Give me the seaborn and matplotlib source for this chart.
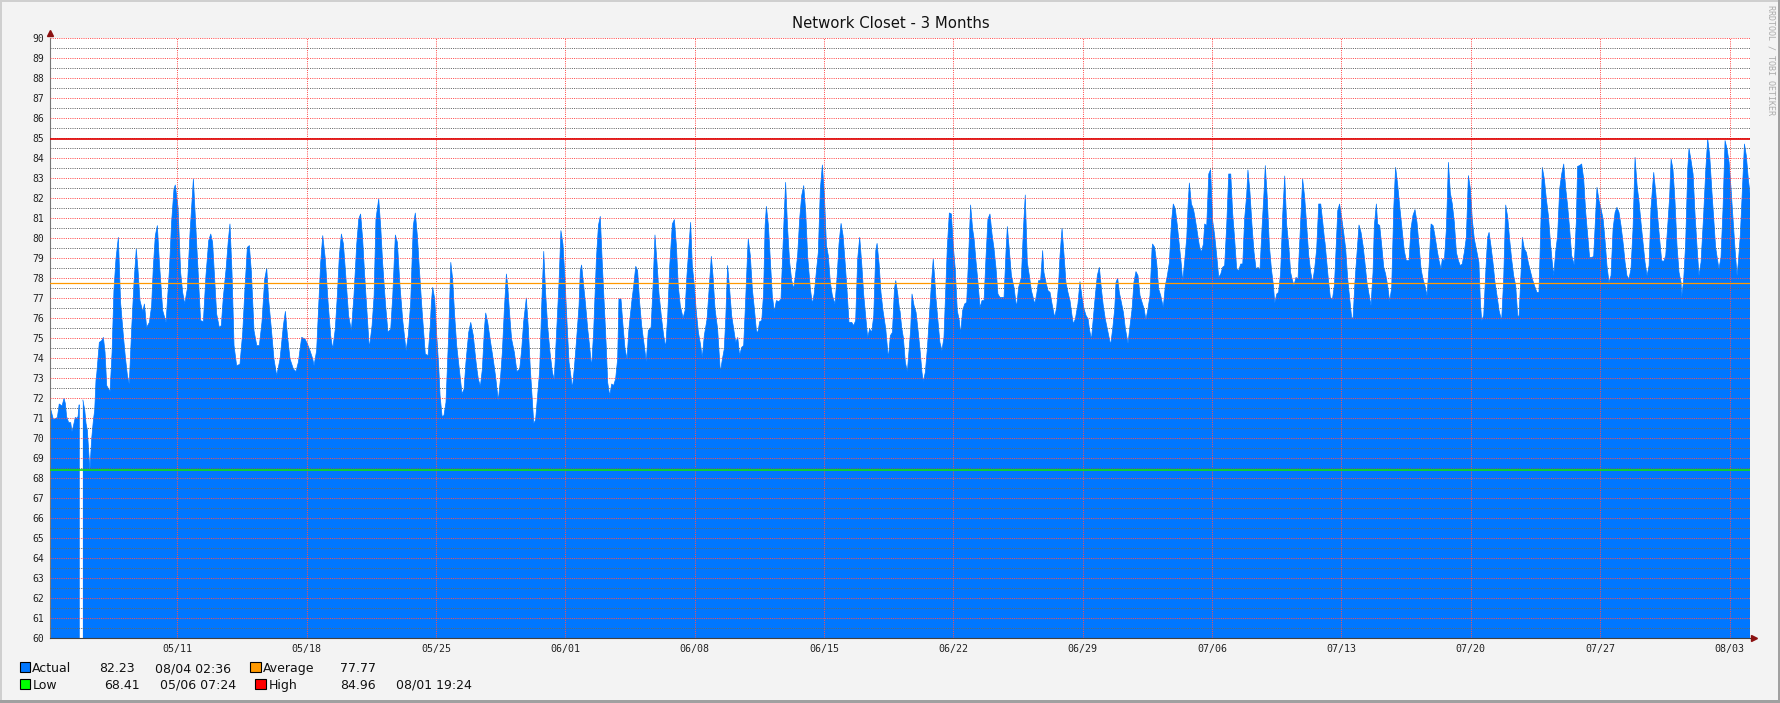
import numpy as np
import pandas as pd
import matplotlib
matplotlib.use("Agg")
import matplotlib.pyplot as plt
from matplotlib.patches import Rectangle
import seaborn as sns

# ---------------- data (days since 05/04 02:36, temperature) ----------------
title = "Network Closet - 3 Months"
start_time = "2014-05-04 02:36"

points_may = [
    (0.00, 71.45), (0.05, 71.4), (0.18, 70.93), (0.32, 70.98), (0.40, 71.03), (0.50, 71.7),
    (0.58, 71.65), (0.65, 71.6), (0.76, 71.98), (0.83, 71.73), (0.90, 71.07), (1.01, 70.77),
    (1.12, 70.77), (1.19, 70.32), (1.26, 70.57), (1.37, 71.03), (1.44, 70.98), (1.52, 71.07),
    (1.57, 71.65), (1.61, 71.65), (1.70, np.nan), (1.78, 71.9), (1.88, 71.4), (1.95, 70.73),
    (2.02, 70.4), (2.09, 69.4), (2.16, 68.41), (2.25, 69.9), (2.35, 70.9), (2.42, 71.4),
    (2.49, 72.9),
    (2.53, 73.2), (2.67, 74.78), (2.80, 74.87), (2.89, 75.03), (2.98, 74.28), (3.07, 72.62), (3.25, 72.32),
    (3.36, 74.28), (3.46, 77.37), (3.57, 78.95), (3.70, 80.03), (3.82, 76.78), (3.97, 75.12), (4.08, 74.03),
    (4.19, 73.12), (4.29, 72.7), (4.42, 75.45), (4.55, 77.82), (4.67, 79.45), (4.76, 78.45), (4.87, 76.87),
    (5.02, 76.32), (5.11, 76.7), (5.23, 75.53), (5.38, 75.78), (5.50, 76.62), (5.59, 78.53), (5.70, 80.12),
    (5.81, 80.62), (5.92, 78.78), (6.10, 76.37), (6.28, 75.78), (6.46, 78.37), (6.58, 80.78), (6.71, 82.45),
    (6.78, 82.65), (6.93, 81.53), (7.07, 78.28), (7.18, 77.28), (7.29, 76.7), (7.43, 77.45), (7.58, 80.28),
    (7.76, 82.95), (7.87, 80.95), (8.01, 78.45), (8.15, 75.87), (8.30, 75.82), (8.44, 78.12), (8.59, 79.87),
    (8.70, 80.2), (8.80, 79.78), (8.91, 77.95), (9.02, 76.2), (9.16, 75.53), (9.27, 75.62), (9.38, 77.03),
    (9.53, 78.45), (9.65, 79.87), (9.74, 80.7), (9.85, 78.28), (9.96, 74.62), (10.10, 73.62), (10.28, 73.68),
    (10.43, 75.28), (10.55, 77.45), (10.68, 79.53), (10.79, 79.62), (10.90, 78.28), (11.04, 75.37),
    (11.19, 74.62), (11.33, 74.62), (11.47, 75.78), (11.62, 77.95), (11.73, 78.48), (11.83, 76.95),
    (11.98, 75.45), (12.12, 73.95), (12.27, 73.12), (12.45, 73.95), (12.63, 75.62), (12.74, 76.33),
    (12.85, 75.12), (12.99, 73.95), (13.17, 73.45), (13.31, 73.32), (13.44, 73.78), (13.62, 75.03),
    (13.80, 74.95), (13.93, 74.7), (14.07, 74.37), (14.22, 73.95), (14.29, 73.62), (14.43, 74.37),
    (14.54, 76.62), (14.65, 78.78), (14.76, 80.12), (14.90, 78.95), (15.05, 76.78), (15.19, 75.12),
    (15.30, 74.45), (15.44, 75.45), (15.55, 77.12), (15.66, 79.12), (15.77, 80.2), (15.88, 79.7),
    (16.02, 77.95), (16.16, 76.12), (16.31, 75.37), (16.45, 77.12), (16.60, 79.7), (16.71, 80.95),
    (16.81, 81.2), (16.92, 79.95), (17.03, 78.12), (17.17, 76.12), (17.28, 74.48), (17.43, 75.62),
    (17.54, 77.12), (17.64, 80.95), (17.79, 81.95), (17.90, 80.53), (18.00, 78.78), (18.15, 76.78),
    (18.29, 75.28), (18.44, 75.45), (18.55, 77.12), (18.69, 80.15), (18.80, 79.78), (18.94, 77.62),
    (19.09, 75.87), (19.27, 74.37), (19.39, 75.12), (19.52, 76.78), (19.66, 80.62), (19.77, 81.25),
    (19.88, 80.12), (19.99, 78.45), (20.13, 76.45), (20.31, 74.2), (20.46, 74.12), (20.57, 75.45),
    (20.64, 76.78), (20.71, 77.53), (20.82, 76.95), (20.93, 75.12), (21.04, 73.53), (21.11, 72.12),
    (21.22, 71.08), (21.32, 71.12), (21.43, 71.78), (21.58, 75.28), (21.69, 78.78), (21.79, 77.95),
    (21.90, 76.12), (22.01, 74.62), (22.15, 73.45), (22.30, 72.2), (22.41, 72.45), (22.51, 73.78),
    (22.66, 75.28), (22.77, 75.78), (22.91, 75.12),
]

points_june = [
    (23.00, 74.28), (23.09, 73.53), (23.18, 72.95), (23.29, 72.58), (23.40, 73.45), (23.51, 75.45),
    (23.58, 76.25), (23.69, 75.78), (23.79, 75.12), (23.90, 74.45), (24.01, 73.78), (24.12, 73.03),
    (24.26, 71.87), (24.37, 72.87), (24.48, 74.28), (24.59, 76.45), (24.70, 78.2), (24.77, 77.62),
    (24.88, 76.12), (24.98, 74.95), (25.13, 74.28), (25.27, 73.32), (25.42, 73.45), (25.53, 74.45),
    (25.63, 75.78), (25.78, 77.0), (25.89, 75.45), (25.99, 73.53), (26.10, 71.95), (26.18, 70.73),
    (26.28, 70.9), (26.39, 72.12), (26.50, 73.37), (26.61, 76.62), (26.72, 79.33), (26.82, 77.28),
    (26.93, 75.62), (27.06, 74.28), (27.19, 73.28), (27.29, 72.92), (27.44, 75.7), (27.55, 77.82),
    (27.65, 80.37), (27.76, 79.7), (27.87, 77.95), (27.98, 75.78), (28.09, 73.78), (28.20, 73.03),
    (28.27, 72.48), (28.38, 73.53), (28.50, 74.95), (28.63, 76.62), (28.70, 78.37), (28.77, 78.65),
    (28.88, 77.62), (28.99, 76.62), (29.10, 75.45), (29.21, 74.53), (29.31, 73.53), (29.42, 75.28),
    (29.57, 78.95), (29.68, 80.62), (29.78, 81.08), (29.89, 78.7), (30.00, 76.62), (30.11, 74.45),
    (30.18, 72.78), (30.29, 72.12), (30.40, 72.7), (30.50, 72.62), (30.61, 72.95), (30.72, 73.95),
    (30.79, 76.95), (30.90, 76.95), (31.01, 75.62), (31.12, 74.45), (31.23, 73.95), (31.33, 75.45),
    (31.48, 76.78), (31.59, 77.62), (31.70, 78.58), (31.80, 78.37), (31.91, 76.78), (32.02, 75.62),
    (32.16, 74.62), (32.27, 73.82), (32.38, 75.37), (32.53, 75.53), (32.63, 77.45), (32.74, 80.15),
    (32.85, 78.78), (32.96, 77.2), (33.10, 75.95), (33.21, 75.12), (33.32, 74.53), (33.43, 76.12),
    (33.54, 78.62), (33.68, 80.7), (33.79, 80.92), (33.90, 79.62), (34.00, 77.62), (34.11, 76.62),
    (34.26, 76.0), (34.37, 76.37), (34.47, 78.12), (34.58, 79.62), (34.67, 80.78), (34.76, 78.62),
    (34.87, 77.62), (34.98, 76.28), (35.09, 75.28), (35.20, 74.7), (35.30, 74.03), (35.41, 75.12),
    (35.56, 75.95), (35.66, 77.28), (35.79, 79.08), (35.88, 78.12), (35.99, 76.45), (36.13, 75.45),
    (36.28, 73.28), (36.39, 73.95), (36.49, 74.45), (36.57, 75.95), (36.67, 78.62), (36.78, 77.45),
    (36.89, 76.12), (37.00, 75.45), (37.11, 74.78), (37.22, 75.03), (37.32, 74.12), (37.43, 74.53),
    (37.54, 74.62), (37.65, 76.95), (37.76, 79.45), (37.79, 79.95), (37.90, 79.12), (38.01, 77.45),
    (38.12, 76.45), (38.23, 75.37), (38.30, 75.25), (38.41, 75.82), (38.52, 75.87), (38.62, 77.28),
    (38.70, 80.62), (38.77, 81.58), (38.88, 80.62), (38.98, 78.95), (39.09, 77.12), (39.20, 76.32),
    (39.31, 76.87), (39.45, 76.82), (39.56, 76.95), (39.67, 79.62), (39.74, 81.28), (39.81, 82.78),
    (39.92, 80.45), (40.03, 78.78), (40.14, 77.87), (40.25, 77.45), (40.36, 78.28), (40.46, 79.12),
    (40.57, 80.95), (40.68, 82.12), (40.79, 82.62), (40.90, 81.28), (41.00, 79.12), (41.15, 77.45),
    (41.26, 76.7), (41.37, 77.28), (41.47, 78.28), (41.58, 79.28), (41.69, 82.45), (41.80, 83.65),
    (41.91, 82.12), (42.02, 79.62), (42.12, 79.12), (42.23, 77.78), (42.34, 77.12), (42.48, 76.7),
    (42.59, 77.95), (42.70, 79.7), (42.81, 80.73), (42.92, 80.12), (43.03, 78.78), (43.13, 77.45),
    (43.24, 75.78), (43.39, 75.78), (43.49, 75.62), (43.60, 75.87), (43.71, 78.95), (43.82, 80.03),
    (43.93, 78.7), (44.04, 77.12), (44.14, 76.12), (44.25, 75.03), (44.36, 75.45), (44.47, 75.28),
    (44.58, 76.12), (44.69, 79.37), (44.76, 79.73), (44.87, 78.7), (44.97, 77.28), (45.08, 76.37),
    (45.23, 75.45), (45.37, 73.98), (45.48, 75.12), (45.59, 75.28), (45.70, 77.45), (45.77, 77.87),
    (45.88, 77.2), (45.98, 76.37),
]

points_july = [
    (46.00, 76.37), (46.09, 75.53), (46.18, 75.03), (46.29, 73.78), (46.40, 73.32), (46.51, 74.62),
    (46.58, 75.45), (46.65, 77.2), (46.76, 76.62), (46.87, 76.28), (46.97, 75.45), (47.08, 74.45),
    (47.19, 73.28), (47.26, 72.82), (47.37, 73.28), (47.48, 74.45), (47.59, 76.12), (47.70, 77.7),
    (47.80, 78.95), (47.88, 77.95), (47.95, 76.95), (48.06, 75.78), (48.16, 74.78), (48.27, 74.37),
    (48.38, 75.03), (48.49, 77.78), (48.56, 79.53), (48.67, 81.25), (48.78, 81.2), (48.89, 79.53),
    (48.99, 78.45), (49.10, 76.37), (49.21, 75.87), (49.28, 75.2), (49.39, 76.37), (49.50, 76.7),
    (49.61, 76.78), (49.72, 79.2), (49.82, 81.65), (49.93, 80.45), (50.01, 79.95), (50.11, 78.87),
    (50.22, 77.78), (50.33, 76.53), (50.44, 76.87), (50.55, 76.87), (50.65, 78.95), (50.76, 80.95),
    (50.87, 81.2), (50.98, 80.2), (51.09, 79.45), (51.20, 78.45), (51.30, 77.2), (51.41, 77.03),
    (51.63, 77.03), (51.74, 79.37), (51.81, 80.57), (51.92, 79.37), (52.03, 78.12), (52.17, 77.53),
    (52.31, 76.53), (52.42, 77.53), (52.57, 78.03), (52.68, 80.45), (52.78, 82.15), (52.89, 78.78),
    (53.00, 78.12), (53.11, 77.37), (53.18, 77.12), (53.29, 76.7), (53.40, 77.2), (53.50, 77.87),
    (53.61, 77.87), (53.72, 79.37), (53.79, 78.28), (53.90, 77.78), (54.01, 77.37), (54.12, 77.28),
    (54.23, 76.7), (54.37, 76.03), (54.48, 76.53), (54.59, 77.78), (54.66, 79.12), (54.77, 80.48),
    (54.88, 79.12), (54.98, 77.78), (55.09, 77.28), (55.20, 76.87), (55.31, 76.12), (55.38, 75.7),
    (55.49, 75.95), (55.63, 76.7), (55.74, 77.82), (55.85, 77.03), (55.96, 76.45), (56.07, 76.12),
    (56.18, 75.95), (56.25, 75.45), (56.36, 74.92), (56.46, 75.95), (56.57, 77.12), (56.68, 78.12),
    (56.79, 78.53), (56.90, 77.45), (57.00, 76.62), (57.11, 75.95), (57.22, 75.45), (57.33, 74.95),
    (57.40, 74.65), (57.51, 75.45), (57.62, 76.45), (57.69, 77.78), (57.78, 77.98), (57.87, 77.28),
    (57.98, 76.78), (58.09, 76.28), (58.20, 75.45), (58.34, 74.73), (58.45, 75.62), (58.56, 76.45),
    (58.66, 77.78), (58.77, 78.32), (58.88, 78.12), (58.99, 77.12), (59.10, 76.78), (59.21, 76.45),
    (59.31, 75.92), (59.42, 76.45), (59.53, 77.12), (59.64, 79.45), (59.67, 79.7), (59.78, 79.53),
    (59.89, 78.78), (60.00, 77.45), (60.11, 77.12), (60.25, 76.53), (60.36, 77.62), (60.47, 78.12),
    (60.58, 78.78), (60.69, 80.78), (60.79, 81.7), (60.90, 81.45), (61.01, 80.62), (61.12, 79.62),
    (61.23, 78.62), (61.30, 77.82), (61.41, 78.87), (61.52, 80.03), (61.59, 81.62), (61.66, 82.75),
    (61.77, 81.7), (61.88, 81.45), (61.98, 80.95), (62.09, 80.28), (62.20, 79.62), (62.31, 79.28),
    (62.42, 79.7), (62.49, 80.7), (62.60, 80.62), (62.71, 83.2), (62.81, 83.42), (62.92, 80.87),
    (63.03, 80.12), (63.14, 79.12), (63.25, 78.03), (63.36, 78.2), (63.46, 78.53), (63.57, 78.62),
    (63.68, 80.62), (63.79, 83.2), (63.90, 83.2), (64.00, 81.28), (64.11, 79.95), (64.22, 78.45),
    (64.33, 78.37), (64.44, 78.7), (64.55, 78.7), (64.65, 80.95), (64.76, 82.12), (64.83, 83.4),
    (64.94, 82.28), (65.05, 80.62), (65.16, 79.28), (65.27, 78.45), (65.38, 78.53), (65.48, 78.4),
    (65.59, 80.45), (65.70, 82.28), (65.77, 83.62), (65.88, 81.95), (65.99, 79.62), (66.10, 78.45),
    (66.21, 77.62), (66.28, 76.75), (66.39, 77.2), (66.49, 77.28), (66.60, 78.28), (66.71, 81.12),
    (66.82, 83.1), (66.93, 80.62), (67.04, 79.62), (67.14, 78.28), (67.22, 77.95), (67.32, 77.62),
    (67.43, 78.03), (67.54, 77.95), (67.65, 80.12), (67.79, 82.95), (67.90, 82.03), (68.01, 80.62),
    (68.12, 79.12), (68.23, 78.28), (68.33, 77.78), (68.44, 78.45), (68.55, 79.45), (68.66, 81.7),
    (68.77, 81.7), (68.88, 80.78), (68.98, 79.87),
]

points_august = [
    (69.00, 79.78), (69.09, 78.87), (69.18, 77.95), (69.29, 77.03), (69.40, 76.92), (69.51, 77.62),
    (69.58, 79.03), (69.69, 81.37), (69.79, 81.7), (69.90, 81.03), (70.01, 80.28), (70.12, 79.45),
    (70.23, 77.95), (70.34, 76.95), (70.44, 76.03), (70.52, 75.98), (70.62, 77.78), (70.73, 79.2),
    (70.84, 80.65), (70.95, 80.28), (71.06, 79.62), (71.16, 78.78), (71.27, 77.78), (71.38, 77.2),
    (71.49, 76.62), (71.60, 78.28), (71.67, 80.62), (71.78, 81.7), (71.85, 80.7), (71.96, 80.62),
    (72.07, 79.62), (72.18, 78.53), (72.28, 78.2), (72.39, 77.62), (72.50, 76.82), (72.61, 77.53),
    (72.72, 81.45), (72.82, 83.53), (72.93, 82.7), (73.04, 81.62), (73.15, 80.62), (73.29, 79.37),
    (73.40, 78.87), (73.55, 78.87), (73.65, 80.45), (73.76, 81.12), (73.87, 81.42), (73.98, 80.78),
    (74.09, 79.62), (74.20, 78.45), (74.30, 77.95), (74.41, 77.62), (74.52, 77.12), (74.63, 78.53),
    (74.74, 80.7), (74.85, 80.62), (74.95, 80.12), (75.06, 79.45), (75.17, 78.87), (75.28, 78.45),
    (75.35, 78.95), (75.46, 78.87), (75.57, 80.45), (75.68, 83.78), (75.78, 82.28), (75.89, 81.7),
    (76.00, 80.78), (76.11, 79.28), (76.22, 78.87), (76.32, 78.62), (76.43, 78.7), (76.54, 79.28),
    (76.65, 80.03), (76.76, 83.12), (76.87, 82.45), (76.97, 80.95), (77.08, 79.95), (77.19, 79.45),
    (77.33, 78.78), (77.41, 76.78), (77.48, 75.87), (77.59, 76.12), (77.70, 78.28), (77.80, 80.03),
    (77.88, 80.28), (77.98, 79.62), (78.09, 78.78), (78.20, 77.78), (78.31, 77.12), (78.42, 76.37),
    (78.56, 75.87), (78.67, 77.95), (78.78, 81.65), (78.89, 81.03), (78.99, 79.95), (79.10, 78.95),
    (79.21, 78.12), (79.32, 77.62), (79.43, 76.12), (79.50, 76.07), (79.61, 78.28), (79.68, 80.03),
    (79.79, 79.45), (79.90, 79.28), (80.00, 78.78), (80.11, 78.37), (80.22, 77.95), (80.37, 77.53),
    (80.47, 77.28), (80.58, 77.28), (80.69, 80.95), (80.76, 83.53), (80.87, 82.95), (80.98, 81.95),
    (81.09, 81.12), (81.20, 79.78), (81.30, 78.78), (81.38, 78.12), (81.48, 79.28), (81.59, 80.12),
    (81.70, 82.45), (81.81, 83.2), (81.92, 83.7), (82.03, 82.45), (82.13, 81.62), (82.24, 80.45),
    (82.35, 79.12), (82.49, 78.65), (82.60, 80.78), (82.67, 83.58), (82.78, 83.62), (82.89, 83.7),
    (83.00, 82.95), (83.11, 81.28), (83.22, 80.12), (83.32, 79.03), (83.43, 79.03), (83.54, 79.07),
    (83.61, 80.45), (83.72, 82.53), (83.83, 81.87), (83.94, 81.45), (84.05, 80.95), (84.15, 79.95),
    (84.26, 78.62), (84.37, 77.78), (84.48, 78.12), (84.59, 80.45), (84.70, 81.28), (84.80, 81.53),
    (84.91, 81.28), (85.02, 80.62), (85.13, 79.78), (85.24, 78.78), (85.34, 78.12), (85.45, 77.95),
    (85.56, 78.45), (85.67, 80.45), (85.78, 84.03), (85.89, 82.62), (85.99, 81.87), (86.10, 80.78),
    (86.21, 79.78), (86.32, 78.78), (86.43, 78.12), (86.54, 78.62), (86.64, 81.45), (86.79, 83.28),
    (86.90, 82.28), (87.00, 81.12), (87.11, 79.95), (87.22, 78.87), (87.33, 78.82), (87.44, 79.12),
    (87.55, 80.62), (87.65, 82.03), (87.73, 83.95), (87.83, 83.45), (87.94, 81.87), (88.05, 79.62),
    (88.16, 78.28), (88.27, 77.78), (88.30, 77.03), (88.41, 77.87), (88.52, 79.78), (88.63, 83.45),
    (88.70, 84.48), (88.81, 83.87), (88.92, 83.2), (89.03, 81.12), (89.13, 79.62), (89.24, 78.12),
    (89.35, 78.78), (89.49, 81.12), (89.60, 83.28), (89.71, 84.96), (89.82, 84.12), (89.93, 82.45),
    (90.04, 80.95), (90.14, 79.53), (90.25, 78.87), (90.32, 78.45), (90.43, 79.03), (90.54, 81.45),
    (90.65, 84.87), (90.76, 84.45), (90.87, 83.78), (90.97, 82.53), (91.08, 80.95), (91.19, 79.45),
    (91.30, 78.12), (91.37, 78.78), (91.48, 80.2), (91.59, 82.45), (91.70, 84.7), (91.80, 84.12),
    (91.91, 82.95), (92.00, 82.23),
]

week_labels = ["05/11", "05/18", "05/25", "06/01", "06/08", "06/15", "06/22",
               "06/29", "07/06", "07/13", "07/20", "07/27", "08/03"]
y_min, y_max = 60, 90
span_days = 92

legend_rows = [
    # (label, colour, value, timestamp)
    ("Actual", "#0077FF", "82.23", "08/04 02:36"),
    ("Average", "#FF9900", "77.77", ""),
    ("Low", "#00FF00", "68.41", "05/06 07:24"),
    ("High", "#FF0000", "84.96", "08/01 19:24"),
]
avg_value = 77.77
low_value = 68.41
high_value = 84.96

# ---------------- build ----------------
BLUE = "#0077FF"
W, H = 1781, 703

sns.set_theme(style="white")
plt.rcParams["font.family"] = ["DejaVu Sans"]

df = pd.DataFrame(points_may + points_june + points_july + points_august,
                  columns=["day", "temp"])
df["seg"] = df["temp"].isna().cumsum()

fig = plt.figure(figsize=(W / 100, H / 100), dpi=100, facecolor="#F3F3F3")
ax = fig.add_axes([50 / W, 1 - 638 / H, 1700 / W, 600 / H])
ax.set_facecolor("white")

ax.fill_between(df["day"], 0, df["temp"], color=BLUE, lw=0, zorder=1)
sns.lineplot(data=df.dropna(), x="day", y="temp", units="seg", estimator=None,
             color=BLUE, lw=0.5, ax=ax, legend=False, zorder=1.5)

ax.set_xlim(0, span_days)
ax.set_ylim(y_min, y_max)
ax.set_xlabel("")
ax.set_ylabel("")

# week ticks from dates
t0 = pd.Timestamp(start_time)
week_pos = [(pd.Timestamp(f"{t0.year}-{lab.replace('/', '-')}") - t0) / pd.Timedelta("1D")
            for lab in week_labels]
ax.set_xticks(week_pos)
ax.set_xticklabels(week_labels)
ax.set_yticks(np.arange(y_min, y_max + 1, 1))
ax.set_yticklabels([str(v) for v in range(y_min, y_max + 1)])
ax.set_yticks(np.arange(y_min + 0.5, y_max, 1), minor=True)

ax.set_axisbelow(False)
ax.grid(True, which="major", axis="y", color=(1, 0.3, 0.3, 0.22), ls=(0, (1, 1.2)), lw=0.72)
ax.grid(True, which="minor", axis="y", color=(0.4, 0.4, 0.4, 0.15), ls=(0, (1, 1.2)), lw=0.72)
ax.grid(True, which="major", axis="x", color=(1, 0.3, 0.3, 0.22), ls=(0, (1, 1.2)), lw=0.72)

ax.axhline(high_value, color="#DD0000", lw=1.2, zorder=4)
ax.axhline(avg_value, color="#FF9900", lw=0.9, zorder=4)
ax.axhline(low_value, color="#10E010", lw=1.2, zorder=4)

for s in ("top", "right"):
    ax.spines[s].set_visible(False)
ax.spines["left"].set_color("#777777")
ax.spines["left"].set_linewidth(0.8)
ax.spines["bottom"].set_color("#404040")
ax.spines["bottom"].set_linewidth(0.8)

ax.tick_params(axis="y", which="major", length=1.6, width=0.7, color="#777777",
               pad=2.8, labelsize=7, labelcolor="#222222")
ax.tick_params(axis="y", which="minor", length=0)
ax.tick_params(axis="x", which="major", length=1.6, width=0.7, color="#555555",
               pad=3.0, labelsize=7.2, labelcolor="#222222")
for lab in ax.get_xticklabels() + ax.get_yticklabels():
    lab.set_family("DejaVu Sans Mono")

# axis arrows
ax.plot([0], [1.008], marker="^", ms=4.2, color="#8B1010", transform=ax.transAxes,
        clip_on=False, zorder=6)
ax.plot([1.0026], [0], marker=">", ms=4.2, color="#8B1010", transform=ax.transAxes,
        clip_on=False, zorder=6)

# title and watermark
fig.text(0.5, 1 - 23 / H, title, ha="center", va="center", fontsize=10.7, color="#111111")
fig.text(1771.5 / W, 1 - 5 / H, "RRDTOOL / TOBI OETIKER", rotation=270, ha="center",
         va="top", family="DejaVu Sans Mono", fontsize=6, color="#ABABAB")

# legend (rrdtool style)
def legend_entry(px_box, px_label, base_y, label, colour):
    by = 1 - base_y / H
    fig.add_artist(Rectangle((px_box / W, by), 10.5 / W, 10.5 / H, transform=fig.transFigure,
                             facecolor=colour, edgecolor="black", lw=0.8))
    fig.text(px_label / W, by, label, ha="left", va="baseline", fontsize=9, color="#111111")

row1, row2 = 672, 689
(a_lab, a_col, a_val, a_time) = legend_rows[0]
(v_lab, v_col, v_val, _) = legend_rows[1]
(l_lab, l_col, l_val, l_time) = legend_rows[2]
(h_lab, h_col, h_val, h_time) = legend_rows[3]

legend_entry(19.5, 32.3, row1, a_lab, a_col)
fig.text(99 / W, 1 - row1 / H, a_val, fontsize=9, va="baseline", color="#111111")
fig.text(155 / W, 1 - row1 / H, a_time, fontsize=9, va="baseline", color="#111111")
legend_entry(250.5, 263.3, row1, v_lab, v_col)
fig.text(340 / W, 1 - row1 / H, v_val, fontsize=9, va="baseline", color="#111111")

legend_entry(19.5, 32.3, row2, l_lab, l_col)
fig.text(104 / W, 1 - row2 / H, l_val, fontsize=9, va="baseline", color="#111111")
fig.text(160 / W, 1 - row2 / H, l_time, fontsize=9, va="baseline", color="#111111")
legend_entry(255.5, 268.3, row2, h_lab, h_col)
fig.text(340 / W, 1 - row2 / H, h_val, fontsize=9, va="baseline", color="#111111")
fig.text(396 / W, 1 - row2 / H, h_time, fontsize=9, va="baseline", color="#111111")

# 3D-ish frame
fig.add_artist(Rectangle((0, 0), 2 / W, 1, transform=fig.transFigure, color="#CFCFCF", lw=0))
fig.add_artist(Rectangle((0, 1 - 2 / H), 1, 2 / H, transform=fig.transFigure, color="#CFCFCF", lw=0))
fig.add_artist(Rectangle((0, 0), 1, 3 / H, transform=fig.transFigure, color="#A0A0A0", lw=0))
fig.add_artist(Rectangle((1 - 3 / W, 0), 3 / W, 1, transform=fig.transFigure, color="#A0A0A0", lw=0))

fig.savefig("out.png", dpi=100, facecolor=fig.get_facecolor())
